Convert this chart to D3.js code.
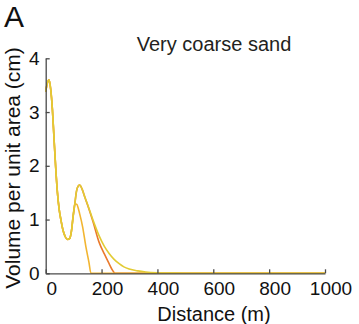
<!DOCTYPE html>
<html lang="en">
<head>
  <meta charset="UTF-8" />
  <title>Very coarse sand</title>
  <script src="https://d3js.org/d3.v7.min.js"></script>
  <style>
    body {
      margin: 0;
      background: #fff;
    }

    svg {
      display: block;
      font-family: "Liberation Sans", Arial, sans-serif;
    }

    .series {
      fill: none;
      stroke-width: 1.6px;
      stroke-linejoin: round;
    }
  </style>
</head>
<body>
  <svg id="chart" width="359" height="324"></svg>

  <script>
    const xTicks = [0, 200, 400, 600, 800, 1000];
    const yTicks = [0, 1, 2, 3, 4];

    // shared profile (distance m, volume cm) up to the second hump
    const baseDist = [0, 6, 12, 18, 24, 30, 36, 42, 48, 55, 62, 70, 78, 86, 92, 98, 104];
    const baseVol = [3.38, 3.54, 3.6, 3.42, 3.05, 2.49, 1.95, 1.5, 1.2, 0.98, 0.8, 0.68, 0.63, 0.65, 0.78, 1.05, 1.28];

    // yellow: long tail
    const yellowDist = [110, 116, 122, 130, 140, 150, 170, 191, 210, 227, 245, 263, 280, 299, 330, 358, 400, 450, 500, 1000];
    const yellowVol = [1.52, 1.62, 1.64, 1.57, 1.42, 1.28, 0.98, 0.7, 0.5, 0.37, 0.26, 0.18, 0.12, 0.08, 0.045, 0.025, 0.01, 0.004, 0, 0];

    // orange: cut off near 250 m
    const orangeDist = [110, 116, 122, 130, 140, 150, 170, 191, 210, 227, 240, 248, 1000];
    const orangeVol = [1.52, 1.62, 1.64, 1.57, 1.42, 1.27, 0.95, 0.58, 0.36, 0.18, 0.05, 0, 0];

    // light orange: small peak, cut off near 160 m
    const innerDist = [108, 112, 116, 120, 132, 144, 155, 162, 1000];
    const innerVol = [1.29, 1.28, 1.22, 1.14, 0.87, 0.49, 0.2, 0, 0];

    const toPoints = (ds, vs) => ds.map((d, i) => ({ d: d, v: vs[i] }));
    const base = toPoints(baseDist, baseVol);

    const series = [
      { color: "#ea7a2c", points: base.concat(toPoints(orangeDist, orangeVol)) },
      { color: "#f2b531", points: base.concat(toPoints(innerDist, innerVol)) },
      { color: "#e2cb34", points: base.concat(toPoints(yellowDist, yellowVol)) }
    ];

    const svg = d3.select("#chart");
    const axisColor = "#4a4a4a";

    const x = d3.scaleLinear().domain([0, 1000]).range([45.7, 325]);
    const y = d3.scaleLinear().domain([0, 4]).range([273.3, 58.3]);

    const line = d3.line()
      .x(p => x(p.d))
      .y(p => y(p.v))
      .curve(d3.curveMonotoneX);

    // lines
    svg.append("g")
      .selectAll("path")
      .data(series)
      .join("path")
      .attr("class", "series")
      .attr("stroke", s => s.color)
      .attr("d", s => line(s.points));

    // x axis (ticks inside)
    const xAxis = svg.append("g")
      .attr("transform", `translate(0,${y(0)})`)
      .call(d3.axisBottom(x).tickValues(xTicks).tickFormat(d3.format("d"))
        .tickSize(-4).tickSizeOuter(0).tickPadding(0));
    xAxis.select(".domain").attr("stroke", axisColor).attr("stroke-width", 1.3);
    xAxis.selectAll(".tick line").attr("stroke", axisColor).attr("stroke-width", 1.3);
    xAxis.selectAll(".tick text")
      .attr("fill", "#111")
      .attr("font-size", 19)
      .attr("dx", 5.5)
      .attr("y", 8)
      .attr("dy", "0.71em");

    // y axis (ticks inside)
    const yAxis = svg.append("g")
      .attr("transform", `translate(${x(0)},0)`)
      .call(d3.axisLeft(y).tickValues(yTicks).tickFormat(d3.format("d"))
        .tickSize(-4).tickSizeOuter(0).tickPadding(6));
    yAxis.select(".domain").attr("stroke", axisColor).attr("stroke-width", 1.3);
    yAxis.selectAll(".tick line").attr("stroke", axisColor).attr("stroke-width", 1.3);
    yAxis.selectAll(".tick text")
      .attr("fill", "#111")
      .attr("font-size", 19);

    // labels
    svg.append("text")
      .attr("x", 214)
      .attr("y", 321)
      .attr("text-anchor", "middle")
      .attr("font-size", 20)
      .attr("fill", "#111")
      .text("Distance (m)");

    svg.append("text")
      .attr("transform", "translate(20,168) rotate(-90)")
      .attr("text-anchor", "middle")
      .attr("font-size", 21)
      .attr("fill", "#111")
      .text("Volume per unit area (cm)");

    svg.append("text")
      .attr("x", 214)
      .attr("y", 51)
      .attr("text-anchor", "middle")
      .attr("font-size", 20)
      .attr("fill", "#231f20")
      .text("Very coarse sand");

    svg.append("text")
      .attr("x", 4)
      .attr("y", 27)
      .attr("font-size", 30)
      .attr("fill", "#111")
      .text("A");
  </script>
</body>
</html>
